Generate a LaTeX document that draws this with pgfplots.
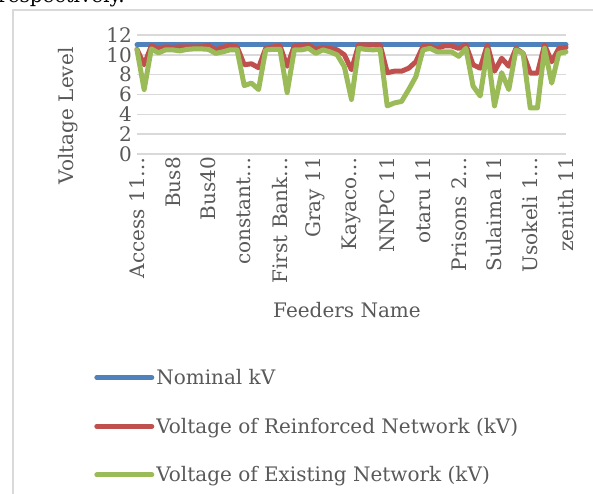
\documentclass[border=0pt]{standalone}
\usepackage{fontspec}
\setmainfont{DejaVu Serif}
\usepackage{pgfplots}
\pgfplotsset{compat=1.18}
\usepackage{pgfplotstable}

\definecolor{nomblue}{HTML}{4F81BD}
\definecolor{reinred}{HTML}{C0504D}
\definecolor{exgreen}{HTML}{9BBB59}
\definecolor{txtgray}{HTML}{595959}
\definecolor{gridgray}{HTML}{D9D9D9}

% idx, nominal, reinforced, existing
\pgfplotstableread{
i  nom  rein   exist
0  11   10.55  10.5
1  11   9.0    6.5
2  11   10.9   10.6
3  11   10.65  10.2
4  11   10.8   10.5
5  11   10.75  10.5
6  11   10.8   10.4
7  11   10.8   10.55
8  11   10.8   10.6
9  11   10.8   10.6
10 11   10.95  10.55
11 11   10.5   10.15
12 11   10.75  10.3
13 11   10.95  10.5
14 11   10.8   10.5
15 11   9.0    6.9
16 11   9.1    7.15
17 11   8.7    6.5
18 11   10.65  10.5
19 11   10.8   10.55
20 11   10.9   10.55
21 11   8.85   6.2
22 11   10.9   10.5
23 11   10.95  10.5
24 11   11.0   10.65
25 11   10.55  10.15
26 11   10.75  10.5
27 11   10.65  10.3
28 11   10.5   10.0
29 11   10.0   8.8
30 11   8.5    5.5
31 11   11.0   10.65
32 11   11.0   10.55
33 11   11.0   10.5
34 11   11.0   10.55
35 11   8.2    4.85
36 11   8.35   5.15
37 11   8.35   5.3
38 11   8.65   6.5
39 11   9.3    7.8
40 11   10.85  10.5
41 11   10.85  10.65
42 11   10.65  10.3
43 11   10.9   10.3
44 11   10.9   10.3
45 11   10.65  9.85
46 11   11.0   10.65
47 11   9.0    6.85
48 11   8.65   5.85
49 11   11.0   10.5
50 11   8.35   4.85
51 11   9.65   8.2
52 11   8.85   6.5
53 11   10.65  10.5
54 11   10.15  10.15
55 11   8.15   4.65
56 11   8.15   4.65
57 11   11.0   10.65
58 11   9.3    7.15
59 11   10.65  10.15
60 11   10.75  10.3
}\feeders

\begin{document}
\begin{tikzpicture}[x=1pt,y=1pt]
\useasboundingbox (0,0) rectangle (593,-494);
% chart frame and the cropped line of page text above it
\draw[gridgray, line width=1.5pt] (13,-494) -- (13,-10) -- (600,-10);
\node[anchor=base west, inner sep=0pt, text=black, font=\fontsize{20}{24}\selectfont] at (-2,-3) {respectively.};

\begin{axis}[
  at={(137pt,-154pt)}, anchor=south west,
  scale only axis, width=429pt, height=119pt,
  xmin=0, xmax=60, ymin=0, ymax=12,
  xtick={0,5,...,60},
  xticklabels={Access 11…, Bus8, Bus40, constant…, First Bank…, Gray 11, Kayaco…, NNPC 11, otaru 11, Prisons 2…, Sulaima 11, Usokeli 1…, zenith 11},
  ytick={0,2,...,12},
  ymajorgrids, grid style={gridgray, line width=1.5pt},
  axis line style={draw=none},
  major tick length=0pt,
  /pgf/number format/assume math mode=true,
  tick label style={text=txtgray, font=\fontsize{20}{22}\selectfont},
  xticklabel style={rotate=90, anchor=east, inner sep=3pt},
  yticklabel style={inner sep=5pt},
  xlabel={Feeders Name}, ylabel={Voltage Level},
  label style={text=txtgray, font=\fontsize{20}{24}\selectfont},
  xlabel style={at={(axis description cs:0.4895,-1.311)}, anchor=center},
  ylabel style={at={(axis description cs:-0.161,0.32)}, anchor=center, rotate=0},
  legend style={draw=none, fill=none, at={(axis description cs:-0.1,-1.79)}, anchor=north west,
    font=\fontsize{20}{24}\selectfont, text=txtgray, row sep=28pt,
    cells={anchor=west}, inner sep=0pt},
  legend image code/.code={\draw[#1, line cap=round] (0pt,0pt) -- (55pt,0pt);},
  every axis plot/.append style={line width=5pt, line join=round, line cap=round},
  clip=false,
]
\addplot[nomblue] table[x=i, y=nom] {\feeders};
\addplot[reinred] table[x=i, y=rein] {\feeders};
\addplot[exgreen] table[x=i, y=exist] {\feeders};
\legend{Nominal kV, Voltage of Reinforced Network (kV), Voltage of Existing Network (kV)}
\end{axis}
\end{tikzpicture}
\end{document}
